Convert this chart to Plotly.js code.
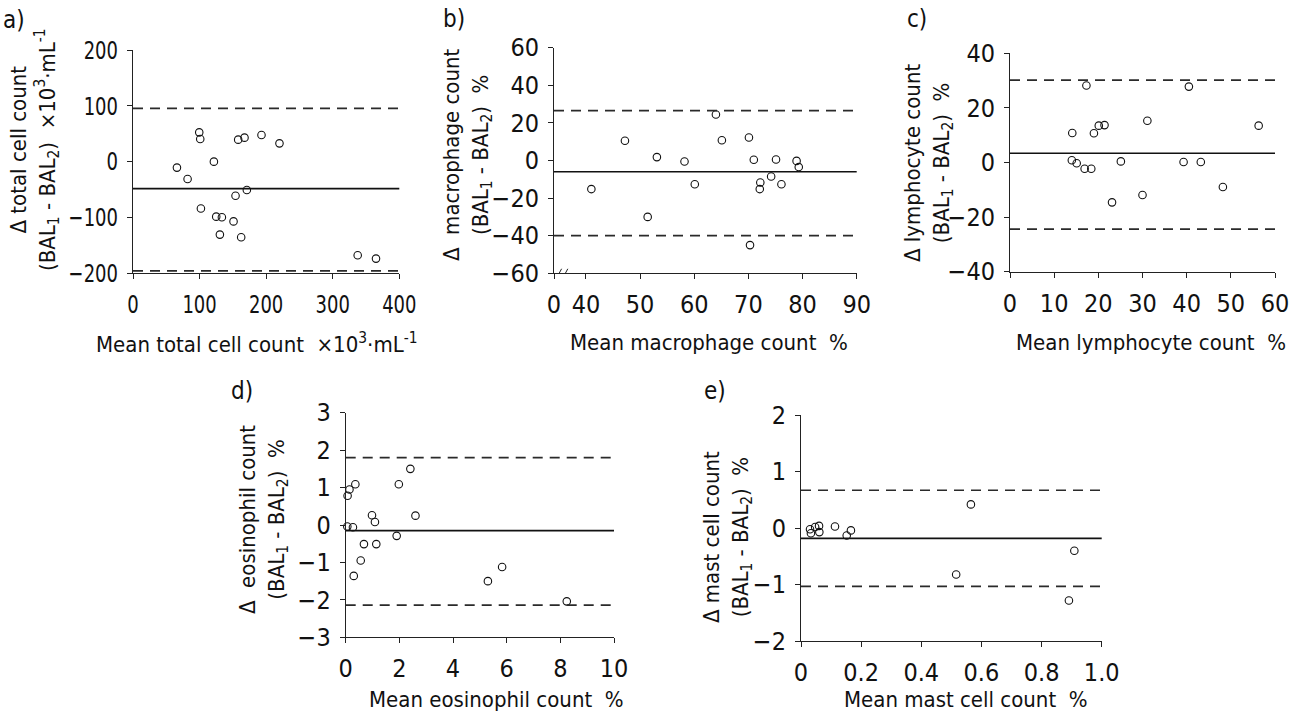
<!DOCTYPE html>
<html>
<head>
<meta charset="utf-8">
<script src="https://cdn.plot.ly/plotly-3.0.1.min.js"></script>
<style>
  html, body { margin: 0; padding: 0; background: #fff; }
  #chart { width: 1297px; height: 713px; }
</style>
</head>
<body>
<div id="chart"></div>
<script>
// ---- Bland-Altman data: mean of the two BAL samples vs. their difference ----
// a) total cell count (x10^3 per mL)
const totalMean = [66, 82, 99.5, 101, 121.5, 102, 125, 133.5, 130.5, 151, 154, 158, 167.5, 171, 162.5, 193, 220, 337.5, 365];
const totalDiff = [-10.7, -31, 52.5, 40.6, 0, -84, -98.5, -99.7, -130.7, -107, -61, 39.4, 43, -50.7, -135.5, 47.8, 32.8, -167.8, -173.7];
const totalBias = [-48.4];
const totalLimits = [95.5, -195.8];

// b) macrophages (%)
const macroMean = [41.0, 47.2, 51.4, 53.1, 58.2, 60.1, 64.0, 65.1, 70.1, 70.3, 71.0, 72.2, 72.1, 74.2, 75.1, 76.1, 78.9, 79.3];
const macroDiff = [-15.2, 10.5, -30, 1.8, -0.5, -12.6, 24.5, 10.8, 12.2, -45, 0.4, -11.7, -15.2, -8.5, 0.5, -12.6, -0.2, -3.5];
const macroBias = [-6.0];
const macroLimits = [26.5, -40.0];

// c) lymphocytes (%)
const lymphMean = [17.3, 40.5, 14.1, 20.1, 21.4, 19.0, 31.1, 56.3, 14.0, 15.1, 16.9, 18.4, 25.1, 23.1, 30.0, 39.3, 43.2, 48.2];
const lymphDiff = [28.2, 27.8, 10.8, 13.5, 13.7, 10.7, 15.3, 13.5, 0.8, -0.3, -2.3, -2.3, 0.4, -14.6, -11.9, 0.2, 0.2, -9.0];
const lymphBias = [3.4];
const lymphLimits = [30.2, -24.4];

// d) eosinophils (%)
const eosMean = [0.07, 0.14, 0.36, 0.06, 0.27, 0.30, 0.56, 0.68, 0.98, 1.09, 1.14, 1.90, 1.98, 2.41, 2.60, 5.30, 5.83, 8.24];
const eosDiff = [0.78, 0.95, 1.09, -0.04, -0.06, -1.36, -0.95, -0.51, 0.26, 0.08, -0.51, -0.29, 1.09, 1.50, 0.25, -1.50, -1.12, -2.04];
const eosBias = [-0.15];
const eosLimits = [1.80, -2.14];

// e) mast cells (%)
const mastMean = [0.030, 0.033, 0.047, 0.060, 0.061, 0.113, 0.152, 0.166, 0.516, 0.565, 0.891, 0.909];
const mastDiff = [-0.02, -0.09, 0.02, 0.04, -0.07, 0.03, -0.13, -0.04, -0.82, 0.42, -1.28, -0.40];
const mastBias = [-0.18];
const mastLimits = [0.67, -1.03];

// tick labels
const totalXTicks = [0, 100, 200, 300, 400];
const totalYTicks = [-200, -100, 0, 100, 200];
const macroXTicks = [40, 50, 60, 70, 80, 90];
const macroYTicks = [-60, -40, -20, 0, 20, 40, 60];
const lymphXTicks = [0, 10, 20, 30, 40, 50, 60];
const lymphYTicks = [-40, -20, 0, 20, 40];
const eosXTicks = [0, 2, 4, 6, 8, 10];
const eosYTicks = [-3, -2, -1, 0, 1, 2, 3];
const mastXTicks = [0, 0.2, 0.4, 0.6, 0.8, 1.0];
const mastXTickText = ['0', '0.2', '0.4', '0.6', '0.8', '1.0'];
const mastYTicks = [-2, -1, 0, 1, 2];

// ---- page geometry ----
const W = 1297, H = 713;
const FONT = '"DejaVu Sans Condensed", "Liberation Sans", Arial, sans-serif';
const TICK_SQUEEZE = 0.8;   // narrow the tick digits horizontally
const px = v => v / W;
const py = v => 1 - v / H;

// plot boxes in pixels: [left, right, top, bottom]
const boxes = {
  a: [133, 399.3, 50, 273.3],
  b: [554, 856.7, 47.7, 273.3],
  c: [1010, 1275, 53.3, 271.7],
  d: [345.7, 614, 412.7, 637.3],
  e: [801, 1101.7, 415, 641.3]
};

function axisBase() {
  return {
    showline: true, linecolor: '#222', linewidth: 1,
    ticks: 'outside', ticklen: 5, tickcolor: '#222', tickwidth: 1,
    showgrid: false, zeroline: false, mirror: false, fixedrange: true,
    tickfont: { family: FONT, size: 25, color: '#111' },
    ticklabelstandoff: 4
  };
}

const panels = [
  { key: 'a', x: totalMean, y: totalDiff, bias: totalBias, limits: totalLimits,
    xr: [0, 400], yr: [-200, 200], xt: totalXTicks, yt: totalYTicks },
  { key: 'b', x: macroMean, y: macroDiff, bias: macroBias, limits: macroLimits,
    xr: [34.1, 90], yr: [-60, 60], xt: [34.1].concat(macroXTicks),
    xtt: ['0'].concat(macroXTicks.map(String)), yt: macroYTicks },
  { key: 'c', x: lymphMean, y: lymphDiff, bias: lymphBias, limits: lymphLimits,
    xr: [0, 60], yr: [-40, 40], xt: lymphXTicks, yt: lymphYTicks },
  { key: 'd', x: eosMean, y: eosDiff, bias: eosBias, limits: eosLimits,
    xr: [0, 10], yr: [-3, 3], xt: eosXTicks, yt: eosYTicks },
  { key: 'e', x: mastMean, y: mastDiff, bias: mastBias, limits: mastLimits,
    xr: [0, 1], yr: [-2, 2], xt: mastXTicks, xtt: mastXTickText, yt: mastYTicks }
];

const traces = [];
const shapes = [];
const layout = {
  width: W, height: H,
  margin: { l: 0, r: 0, t: 0, b: 0 },
  paper_bgcolor: '#fff', plot_bgcolor: 'rgba(0,0,0,0)',
  showlegend: false,
  font: { family: FONT, color: '#111' },
  annotations: []
};

panels.forEach((p, i) => {
  const n = i === 0 ? '' : String(i + 1);
  const xa = 'x' + n, ya = 'y' + n;
  const b = boxes[p.key];

  const xaxis = Object.assign(axisBase(), {
    domain: [px(b[0]), px(b[1])], range: p.xr, anchor: ya,
    tickmode: 'array', tickvals: p.xt
  });
  if (p.xtt) xaxis.ticktext = p.xtt;
  const yaxis = Object.assign(axisBase(), {
    domain: [py(b[3]), py(b[2])], range: p.yr, anchor: xa,
    tickmode: 'array', tickvals: p.yt
  });
  layout['xaxis' + n] = xaxis;
  layout['yaxis' + n] = yaxis;

  traces.push({
    type: 'scatter', mode: 'markers', x: p.x, y: p.y, xaxis: xa, yaxis: ya,
    cliponaxis: false,
    marker: { symbol: 'circle-open', size: 7.5, color: '#111', line: { width: 1.1, color: '#111' } },
    hoverinfo: 'x+y'
  });

  // mean difference (solid) and limits of agreement (dashed)
  p.bias.forEach(v => shapes.push({
    type: 'line', xref: xa + ' domain', yref: ya, x0: 0, x1: 1, y0: v, y1: v,
    line: { color: '#111', width: 1.6 }
  }));
  p.limits.forEach(v => shapes.push({
    type: 'line', xref: xa + ' domain', yref: ya, x0: 0, x1: 1, y0: v, y1: v,
    line: { color: '#2a2a2a', width: 1.7, dash: '10px,7px' }
  }));
});

// axis break "//" on the macrophage x axis
[0, 1.15].forEach(dx => shapes.push({
  type: 'line', xref: 'x2', yref: 'y2',
  x0: 34.6 + dx, x1: 35.5 + dx, y0: -62.4, y1: -57.6,
  line: { color: '#222', width: 1 }
}));

// panel letters
const letters = [['a)', 14, 20], ['b)', 454, 19], ['c)', 917, 19], ['d)', 242, 391], ['e)', 715, 391]];
letters.forEach(([t, x, y]) => layout.annotations.push({
  text: t, xref: 'paper', yref: 'paper', x: px(x), y: py(y),
  xanchor: 'center', yanchor: 'middle', showarrow: false,
  font: { family: FONT, size: 24, color: '#111' }
}));

// x axis titles
const xTitles = [
  ['Mean total cell count  \u00d710<sup>3</sup>\u00b7mL<sup>-1</sup>', 257, 343],
  ['Mean macrophage count  %', 709, 343],
  ['Mean lymphocyte count  %', 1151, 343],
  ['Mean eosinophil count  %', 496, 699],
  ['Mean mast cell count  %', 966, 699]
];
xTitles.forEach(([t, x, y]) => layout.annotations.push({
  text: t, xref: 'paper', yref: 'paper', x: px(x), y: py(y),
  xanchor: 'center', yanchor: 'middle', showarrow: false,
  font: { family: FONT, size: 22, color: '#111' }
}));

// y axis titles (two lines, rotated)
const yTitles = [
  ['\u0394 total cell count<br>(BAL<sub>1</sub> - BAL<sub>2</sub>)  \u00d710<sup>3</sup>\u00b7mL<sup>-1</sup>', 35, 150],
  ['\u0394  macrophage count<br>(BAL<sub>1</sub> - BAL<sub>2</sub>)  %', 468, 155],
  ['\u0394 lymphocyte count<br>(BAL<sub>1</sub> - BAL<sub>2</sub>)  %', 929, 163],
  ['\u0394  eosinophil count<br>(BAL<sub>1</sub> - BAL<sub>2</sub>)  %', 263, 520],
  ['\u0394 mast cell count<br>(BAL<sub>1</sub> - BAL<sub>2</sub>)  %', 727, 537]
];
yTitles.forEach(([t, x, y]) => layout.annotations.push({
  text: t, xref: 'paper', yref: 'paper', x: px(x), y: py(y),
  xanchor: 'center', yanchor: 'middle', showarrow: false, textangle: -90,
  font: { family: FONT, size: 22, color: '#111' }
}));

layout.shapes = shapes;

Plotly.newPlot('chart', traces, layout, { displayModeBar: false, staticPlot: true }).then(gd => {
  // condensed look for the numeric tick labels
  gd.querySelectorAll('.xtick text, .ytick text').forEach(t => {
    const w = t.getComputedTextLength();
    t.setAttribute('textLength', (w * TICK_SQUEEZE).toFixed(1));
    t.setAttribute('lengthAdjust', 'spacingAndGlyphs');
  });
});
</script>
</body>
</html>
